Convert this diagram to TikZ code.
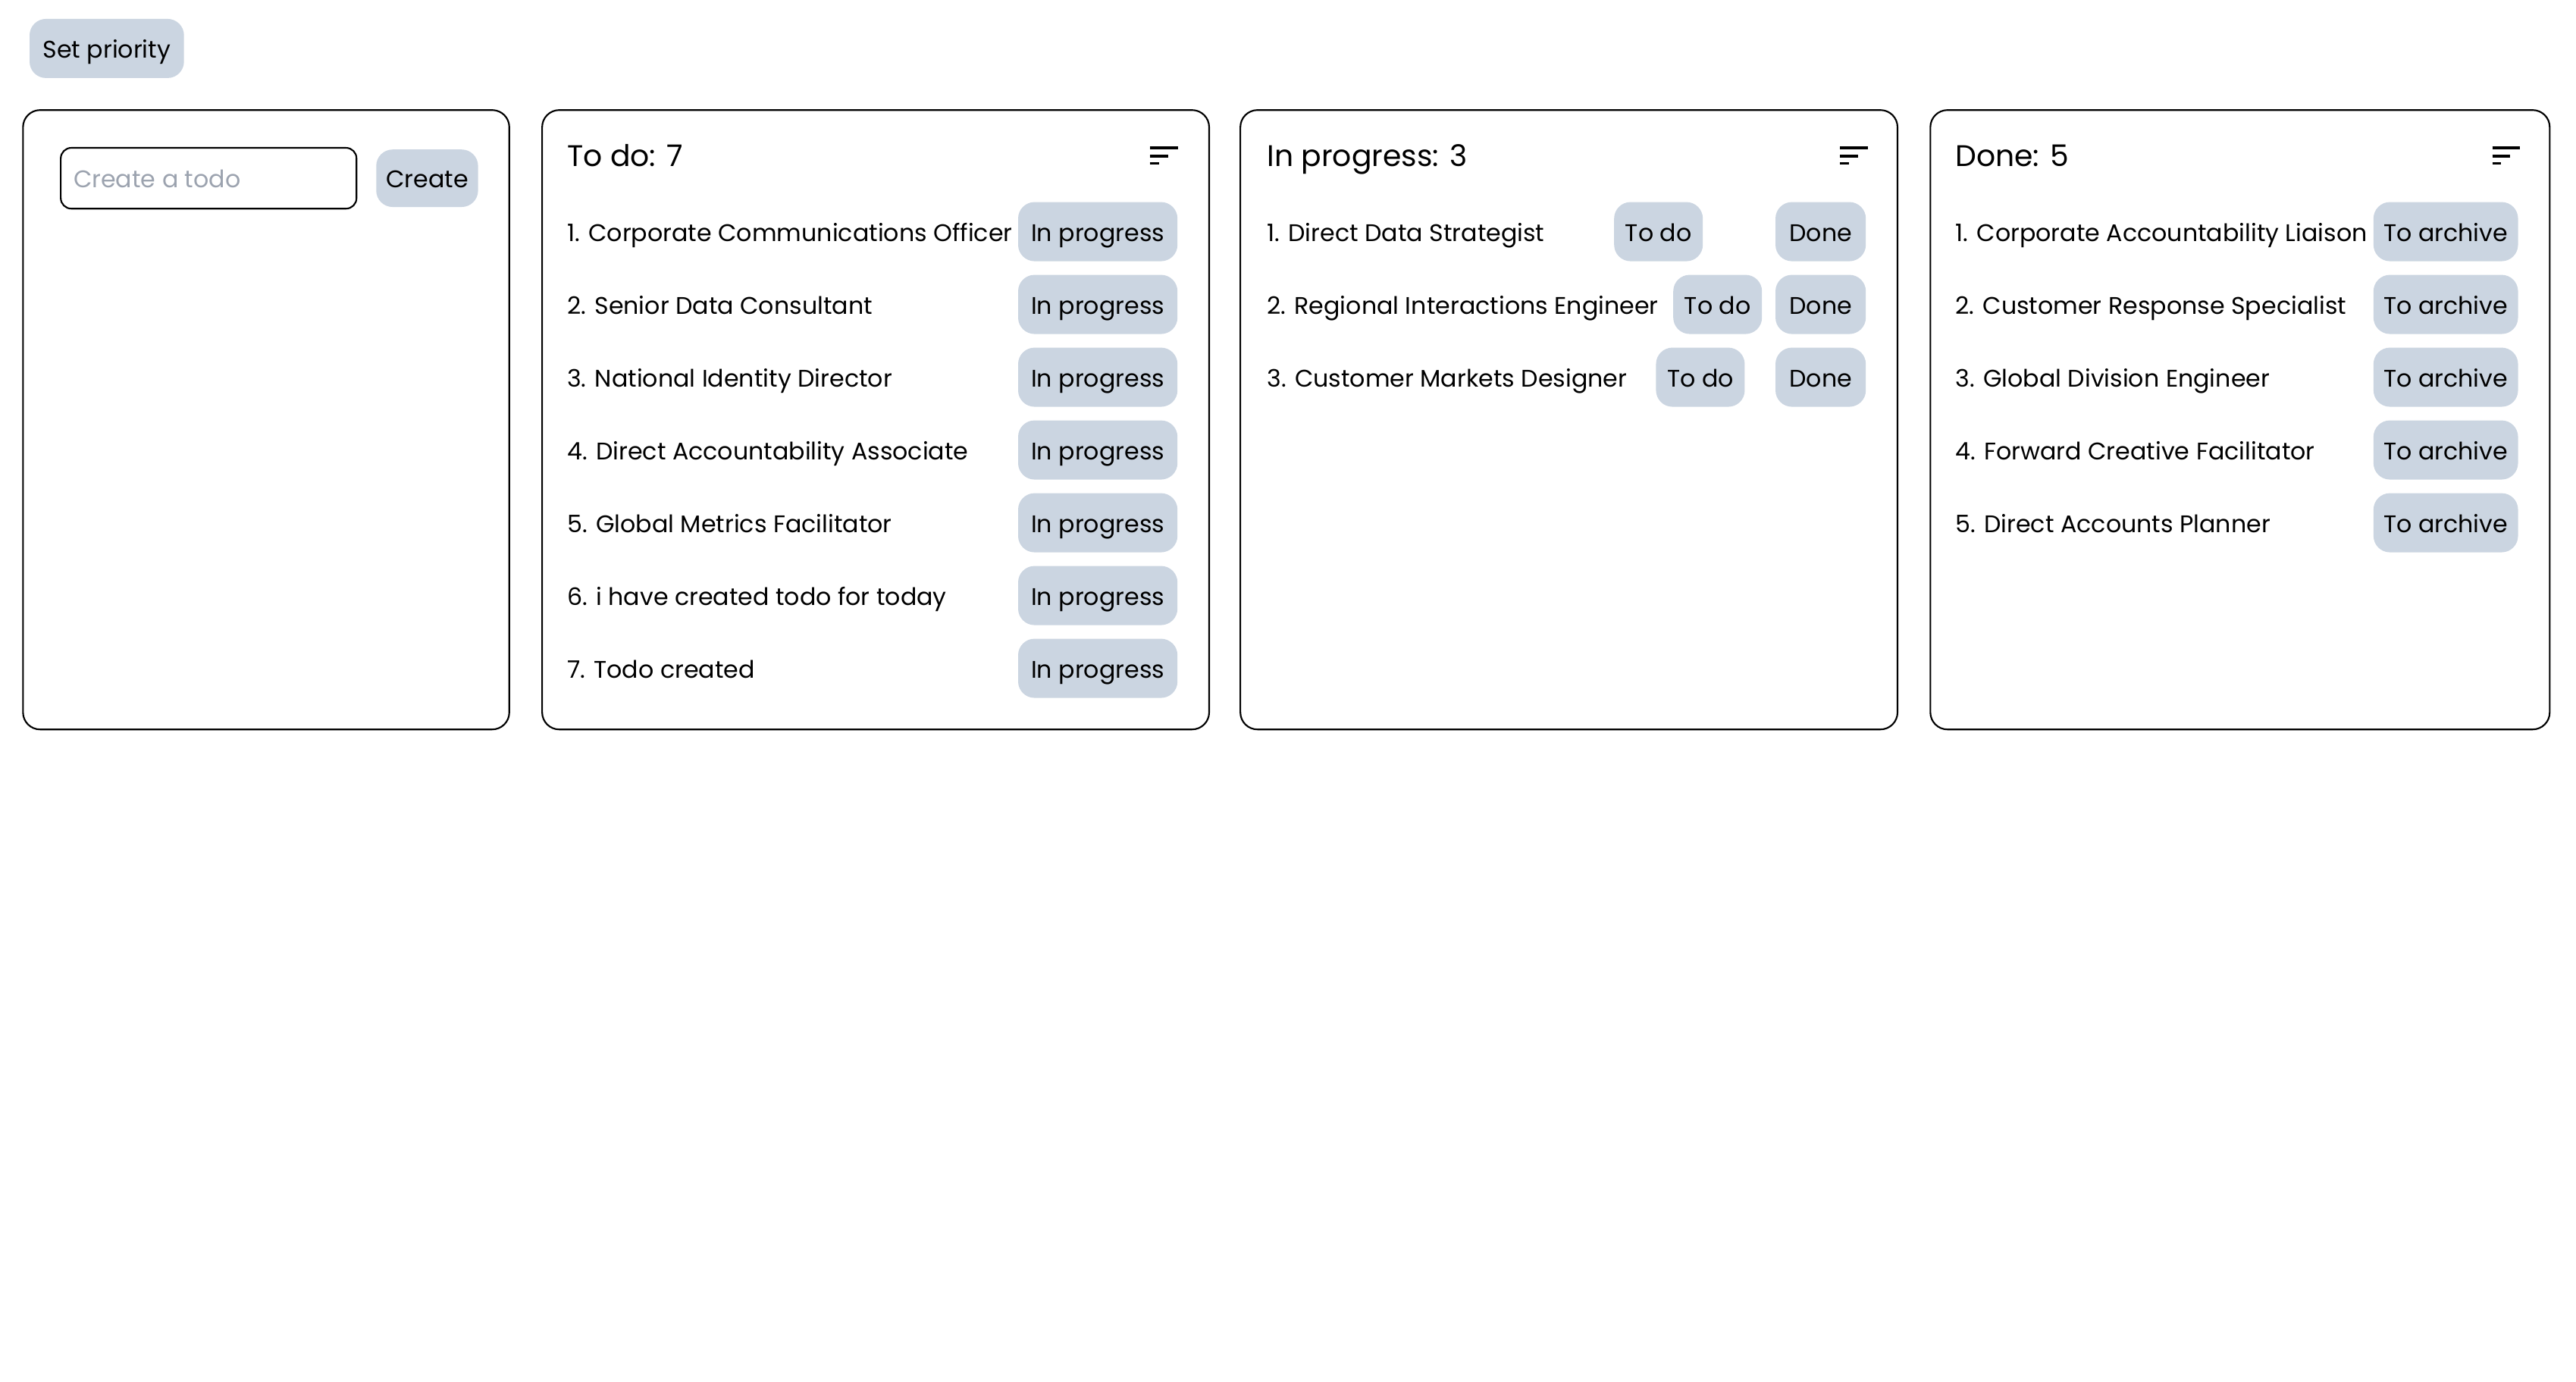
\documentclass[tikz,border=0pt]{standalone}
\usepackage{fontspec}
\setmainfont{Poppins}
\usepackage{tikz}
\usetikzlibrary{calc}
\definecolor{cbdbe1}{rgb}{0.796,0.835,0.882}
\definecolor{aaabaf}{rgb}{0.612,0.639,0.686}
\tikzstyle{every node}=[font=\fontsize{10.4}{12}\selectfont,text height=0.84em,text depth=0pt]

\begin{document}
\begin{tikzpicture}[line cap=round,line join=round,x=0.25mm,y=-0.25mm,
  card/.style={draw,line width=0.7pt,rounded corners=2.6mm},
  btn/.style={fill=cbdbe1,rounded corners=2.5mm,minimum height=9mm,minimum width=#1*0.25mm,inner sep=0pt},
  btn/.default=60,
  item/.style={anchor=west,inner sep=0pt},
  title/.style={anchor=west,inner sep=0pt,font=\fontsize{12.9}{15}\selectfont,text height=0.92em},
  sortline/.style={line width=1.1pt,line cap=butt}]
\useasboundingbox (0,0) rectangle (1568,840.8);
% top button
\node [btn=94] (prio) at (65,29.5) {Set priority};
% columns
\draw [card] (14,67) rectangle (310,444);
\draw [card] (330,67) rectangle (736,444);
\draw [card] (755,67) rectangle (1155,444);
\draw [card] (1175,67) rectangle (1552,444);
% new todo
\node [draw,line width=0.7pt,rounded corners=1.6mm,minimum width=45mm,minimum height=9.25mm,inner sep=0pt] (newtodo) at (127,108.5) {};
\node [item,color=aaabaf] (hint) at ($(newtodo.west)+(8,0)$) {Create a todo};
\node [btn=62,minimum height=8.75mm] (create) at (260,108.5) {Create};
% to do
\node [title] (todohead) at (345,95) {To do: 7};
\draw [sortline] (700,90) -- (717,90) (700,95) -- (711,95) (700,99.5) -- (705.5,99.5);
\node [item] (t1) at (345,141) {1. Corporate Communications Officer};
\node [item] (t2) at (345,185.3) {2. Senior Data Consultant};
\node [item] (t3) at (345,229.6) {3. National Identity Director};
\node [item] (t4) at (345,273.9) {4. Direct Accountability Associate};
\node [item] (t5) at (345,318.2) {5. Global Metrics Facilitator};
\node [item] (t6) at (345,362.5) {6. i have created todo for today};
\node [item] (t7) at (345,406.8) {7. Todo created};
\node [btn=97,anchor=east] (t1b) at (717,141) {In progress};
\node [btn=97,anchor=east] (t2b) at (717,185.3) {In progress};
\node [btn=97,anchor=east] (t3b) at (717,229.6) {In progress};
\node [btn=97,anchor=east] (t4b) at (717,273.9) {In progress};
\node [btn=97,anchor=east] (t5b) at (717,318.2) {In progress};
\node [btn=97,anchor=east] (t6b) at (717,362.5) {In progress};
\node [btn=97,anchor=east] (t7b) at (717,406.8) {In progress};
% in progress
\node [title] (prohead) at (771,95) {In progress: 3};
\draw [sortline] (1120,90) -- (1137,90) (1120,95) -- (1131,95) (1120,99.5) -- (1125.5,99.5);
\node [item] (p1) at (771,141) {1. Direct Data Strategist};
\node [item] (p2) at (771,185.3) {2. Regional Interactions Engineer};
\node [item] (p3) at (771,229.6) {3. Customer Markets Designer};
\node [btn=54] (p1a) at (1009.5,141) {To do};
\node [btn=54] (p2a) at (1045.5,185.3) {To do};
\node [btn=54] (p3a) at (1035,229.6) {To do};
\node [btn=55,anchor=east] (p1b) at (1136,141) {Done};
\node [btn=55,anchor=east] (p2b) at (1136,185.3) {Done};
\node [btn=55,anchor=east] (p3b) at (1136,229.6) {Done};
% done
\node [title] (donehead) at (1190,95) {Done: 5};
\draw [sortline] (1517,90) -- (1534,90) (1517,95) -- (1528,95) (1517,99.5) -- (1522.5,99.5);
\node [item] (d1) at (1190,141) {1. Corporate Accountability Liaison};
\node [item] (d2) at (1190,185.3) {2. Customer Response Specialist};
\node [item] (d3) at (1190,229.6) {3. Global Division Engineer};
\node [item] (d4) at (1190,273.9) {4. Forward Creative Facilitator};
\node [item] (d5) at (1190,318.2) {5. Direct Accounts Planner};
\node [btn=88,anchor=east] (d1b) at (1533,141) {To archive};
\node [btn=88,anchor=east] (d2b) at (1533,185.3) {To archive};
\node [btn=88,anchor=east] (d3b) at (1533,229.6) {To archive};
\node [btn=88,anchor=east] (d4b) at (1533,273.9) {To archive};
\node [btn=88,anchor=east] (d5b) at (1533,318.2) {To archive};
\end{tikzpicture}
\end{document}
